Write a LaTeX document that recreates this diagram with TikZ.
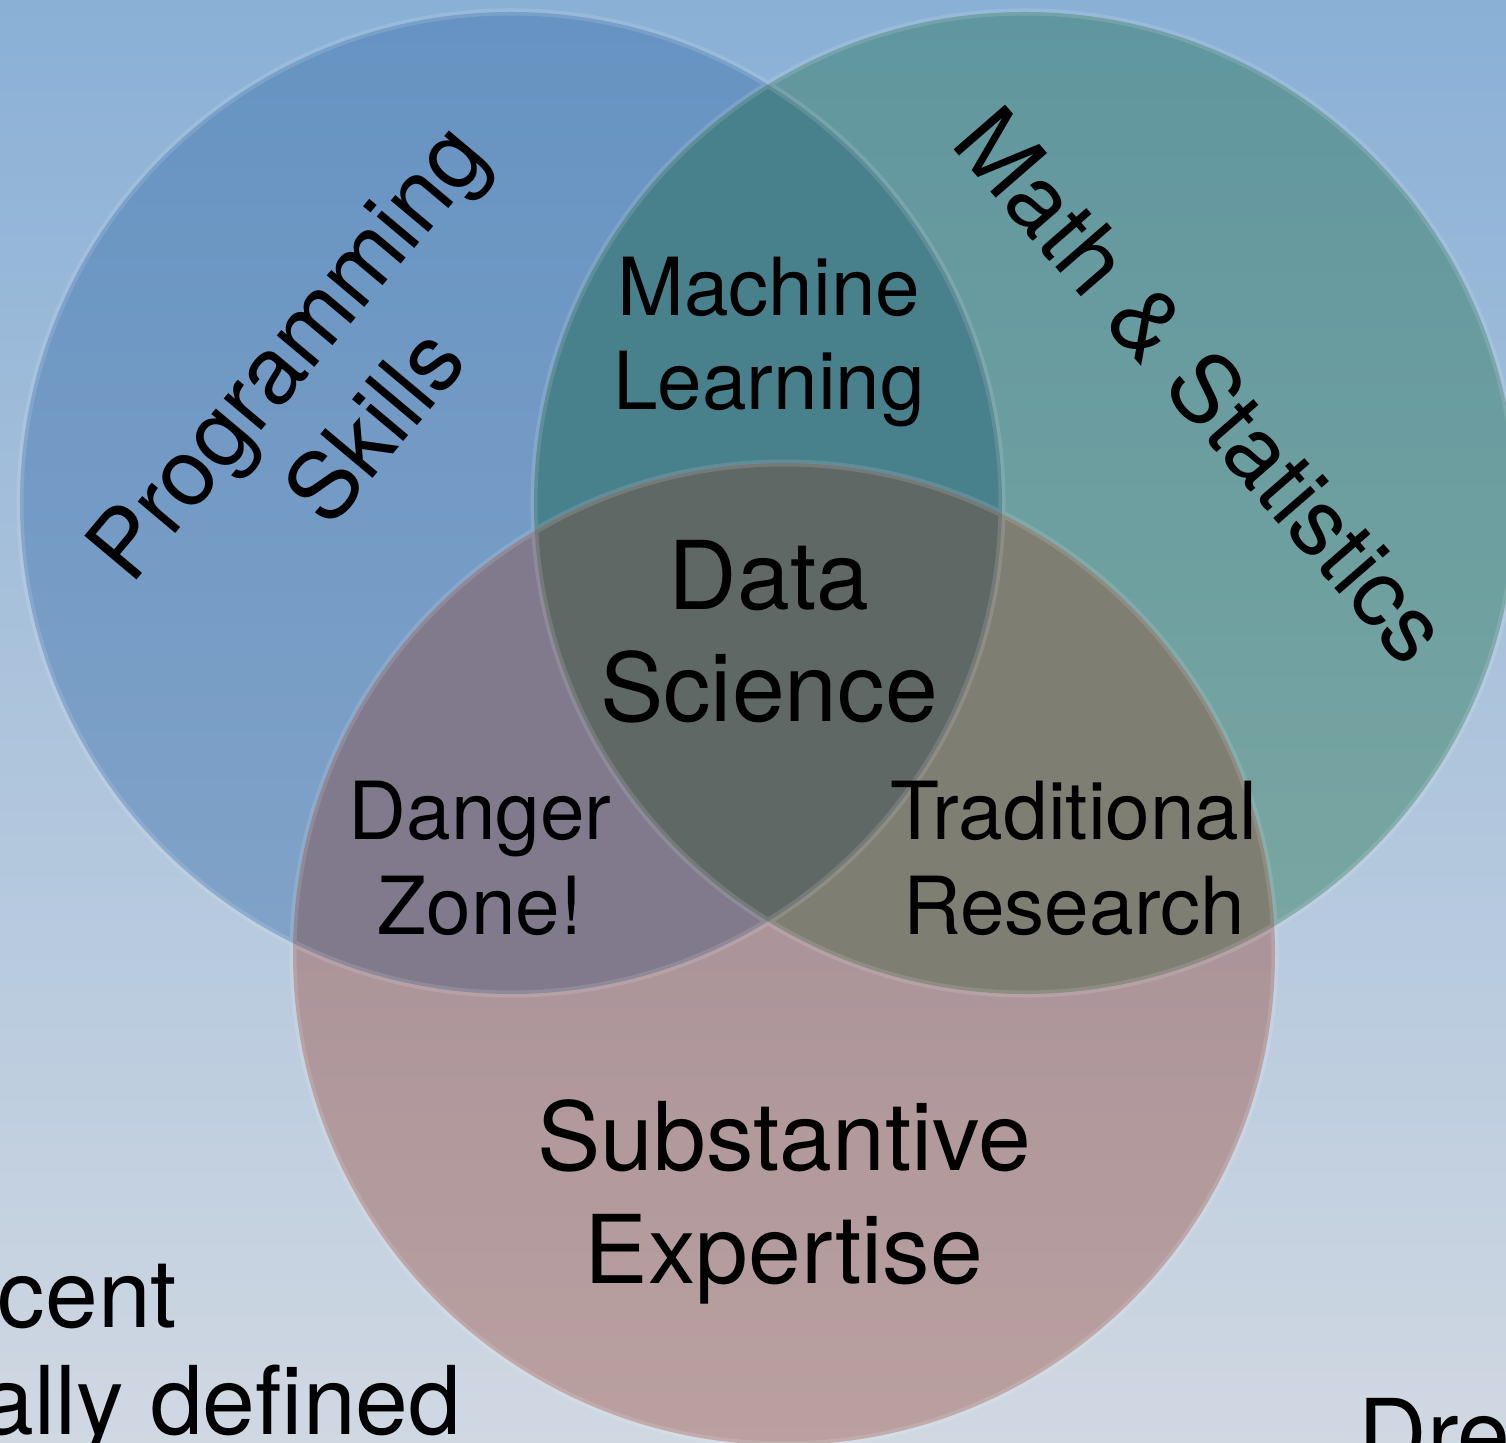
\documentclass[tikz,border=0pt]{standalone}
\usepackage{fontspec}
\setmainfont{TeX Gyre Heros}
\usetikzlibrary{positioning}
\definecolor{bgtop}{RGB}{138,176,214}
\definecolor{bgbot}{RGB}{208,216,226}
\definecolor{progtop}{RGB}{102,147,194}
\definecolor{progbot}{RGB}{130,163,200}
\definecolor{mathtop}{RGB}{96,150,158}
\definecolor{mathbot}{RGB}{122,167,162}
\definecolor{substtop}{RGB}{158,138,148}
\definecolor{substbot}{RGB}{186,160,160}
\definecolor{mlfill}{RGB}{72,128,140}
\definecolor{dzfill}{RGB}{128,122,140}
\definecolor{trfill}{RGB}{126,126,114}
\definecolor{dsfill}{RGB}{96,104,102}
\newcommand{\vennr}{4.91}

\begin{document}
\begin{tikzpicture}[
  lbl/.style={inner sep=0pt, align=center, text=black},
  big/.style={lbl, font=\fontsize{27}{32}\selectfont},
  small/.style={lbl, font=\fontsize{22.8}{27}\selectfont},
  title/.style={lbl, font=\fontsize{26.6}{33}\selectfont},
  rim/.style={draw=white, draw opacity=0.12, line width=2pt}
]
\useasboundingbox (0,0) rectangle (15.06,14.43);
\clip (0,0) rectangle (15.06,14.43);
\shade[top color=bgtop, bottom color=bgbot] (0,0) rectangle (15.06,14.43);

\coordinate (prog) at (5.11,9.40);
\coordinate (math) at (10.25,9.40);
\coordinate (subst) at (7.84,4.89);

\shade[top color=progtop, bottom color=progbot] (prog) circle (\vennr);
\shade[top color=mathtop, bottom color=mathbot] (math) circle (\vennr);
\shade[top color=substtop, bottom color=substbot] (subst) circle (\vennr);
\begin{scope}
  \clip (prog) circle (\vennr);
  \fill[mlfill] (math) circle (\vennr);
  \fill[dzfill] (subst) circle (\vennr);
\end{scope}
\begin{scope}
  \clip (math) circle (\vennr);
  \fill[trfill] (subst) circle (\vennr);
\end{scope}
\begin{scope}
  \clip (prog) circle (\vennr);
  \clip (math) circle (\vennr);
  \fill[dsfill] (subst) circle (\vennr);
\end{scope}
\draw[rim] (prog) circle (\vennr) (math) circle (\vennr) (subst) circle (\vennr);

\node[title, rotate=50] (progskills) at (3.30,10.55) {Programming\\Skills};
\node[title, rotate=-49] (mathstats) at (12.03,10.58) {Math \& Statistics};
\node[small] (ml) at (7.69,11.01) {Machine\\Learning};
\node[big] (ds) at (7.69,8.11) {Data\\Science};
\node[small] (dz) at (4.80,5.845) {Danger\\Zone!};
\node[small] (tr) at (10.74,5.845) {Traditional\\Research};
\node[big] (se) at (7.84,2.41) {Substantive\\Expertise};
\node[big, anchor=base east] (cent) at (1.78,1.15) {cent};
\node[big, anchor=base east] (defined) at (4.62,0.08) {ally defined};
\node[big, anchor=base west] (dre) at (13.58,-0.25) {Dre};
\end{tikzpicture}
\end{document}
